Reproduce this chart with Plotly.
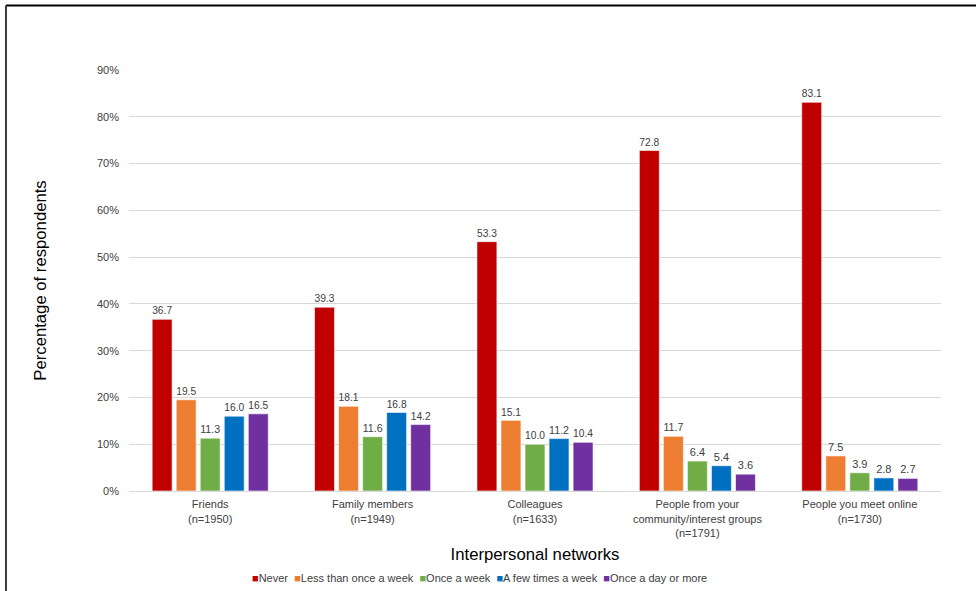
import plotly.graph_objects as go

categories = [
    "Friends<br>(n=1950)",
    "Family members<br>(n=1949)",
    "Colleagues<br>(n=1633)",
    "People from your<br>community/interest groups<br>(n=1791)",
    "People you meet online<br>(n=1730)",
]
series_names = ["Never", "Less than once a week", "Once a week", "A few times a week", "Once a day or more"]
never = [36.7, 39.3, 53.3, 72.8, 83.1]
less_than_weekly = [19.5, 18.1, 15.1, 11.7, 7.5]
once_a_week = [11.3, 11.6, 10.0, 6.4, 3.9]
few_times_a_week = [16.0, 16.8, 11.2, 5.4, 2.8]
daily_or_more = [16.5, 14.2, 10.4, 3.6, 2.7]
colors = ["#C00000", "#ED7D31", "#70AD47", "#0070C0", "#7030A0"]
y_ticks = [0, 10, 20, 30, 40, 50, 60, 70, 80, 90]

FONT = "Liberation Sans, Arial, sans-serif"

fig = go.Figure()
for name, vals, col in zip(series_names,
                           [never, less_than_weekly, once_a_week, few_times_a_week, daily_or_more],
                           colors):
    fig.add_trace(go.Bar(
        name=name, x=categories, y=vals,
        marker=dict(color=col, line=dict(color="rgba(255,255,255,0.6)", width=1)),
        text=[f"{v:.1f}" for v in vals], textposition="outside",
        textfont=dict(family=FONT, size=11, color="#404040"),
        cliponaxis=False, showlegend=False,
    ))

# compact legend line: coloured squares followed by series names
legend_parts = [
    f"<span style='color:{c};font-size:11px'>■</span>{n}"
    for n, c in zip(series_names, colors)
]
legend_text = "  ".join(legend_parts)

fig.update_layout(
    width=976, height=591,
    margin=dict(l=129, r=35, t=70, b=100, autoexpand=False),
    paper_bgcolor="white", plot_bgcolor="white",
    barmode="group", bargap=0.26, bargroupgap=0.17,
    font=dict(family=FONT, size=11, color="#595959"),
    xaxis=dict(showgrid=False, showline=True, linecolor="#D9D9D9", linewidth=1,
               ticks="", automargin=False, ticklabelstandoff=3,
               tickfont=dict(family=FONT, size=11, color="#404040"),
               title=dict(text="Interpersonal networks", standoff=10,
                          font=dict(family=FONT, size=16.7, color="#000000"))),
    yaxis=dict(range=[0, 90], tickvals=y_ticks, ticktext=[f"{t}%" for t in y_ticks],
               showgrid=True, gridcolor="#D9D9D9", gridwidth=1, zeroline=False,
               showline=False, ticks="", ticklabelstandoff=9, automargin=False,
               tickfont=dict(family=FONT, size=11, color="#404040"),
               title=dict(text="Percentage of respondents", standoff=46,
                          font=dict(family=FONT, size=16.7, color="#000000"))),
    annotations=[
        dict(text=legend_text, xref="paper", yref="paper", x=0.432, y=-0.207,
             xanchor="center", yanchor="middle", showarrow=False,
             font=dict(family=FONT, size=11, color="#404040")),
    ],
    shapes=[
        dict(type="line", xref="paper", yref="paper", x0=-0.1515, x1=1.05, y0=1.153, y1=1.153,
             line=dict(color="#000000", width=2)),
        dict(type="line", xref="paper", yref="paper", x0=-0.1515, x1=-0.1515, y0=1.153, y1=-0.3,
             line=dict(color="#3a3a3a", width=2)),
    ],
)

fig.write_html("out.html")
